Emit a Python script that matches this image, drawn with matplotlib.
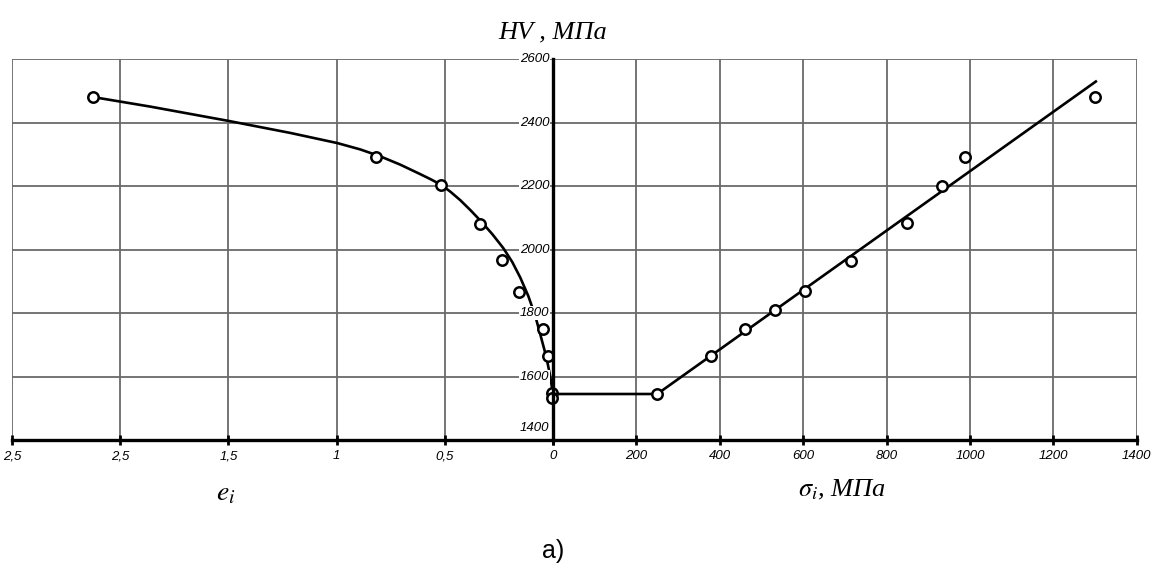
import matplotlib
matplotlib.use("Agg")
import matplotlib.pyplot as plt
import matplotlib.transforms as mtransforms

plt.rcParams['mathtext.fontset'] = 'stix'

# ---------------- data ----------------
# left half: strain intensity e_i (reversed axis)
left_e_pts = [2.124, 0.818, 0.517, 0.337, 0.237, 0.156, 0.045, 0.0245, 0.006, 0.003]
left_hv_pts = [2481, 2292, 2205, 2080, 1967, 1867, 1749, 1664, 1547, 1531]
curve_e = [2.125, 1.862, 1.501, 1.2145, 0.997, 0.891, 0.798, 0.706, 0.6135, 0.5626,
           0.5164, 0.4748, 0.4286, 0.3823, 0.3361, 0.2806, 0.2298, 0.1882, 0.1512,
           0.1142, 0.0818, 0.0541, 0.031, 0.0148, 0.0]
curve_hv = [2481, 2451, 2406, 2368, 2336, 2316, 2294, 2268, 2238, 2221,
            2204, 2183, 2156, 2125, 2092, 2049, 2005, 1961, 1912,
            1854, 1791, 1721, 1662, 1608, 1545]

# right half: stress intensity sigma_i, MPa
right_s_pts = [250, 378, 461, 532, 604, 714, 848, 932, 989, 1300]
right_hv_pts = [1544, 1666, 1749, 1810, 1870, 1964, 2083, 2201, 2293, 2480]
line_s = [0, 250, 1302]
line_hv = [1545, 1545, 2530]

left_ticks = [2.5, 2.0, 1.5, 1.0, 0.5, 0.0]
left_tick_labels = ['2,5', '2,5', '1,5', '1', '0,5', '0']
right_ticks = [0, 200, 400, 600, 800, 1000, 1200, 1400]
right_tick_labels = ['', '200', '400', '600', '800', '1000', '1200', '1400']
y_ticks = [1400, 1600, 1800, 2000, 2200, 2400, 2600]

# ---------------- figure ----------------
W, H = 1151, 583
fig = plt.figure(figsize=(W / 100, H / 100), dpi=100)

x0, xm, x1 = 12, 553, 1136.7
ytop, ybot = 59.3, 440
axL = fig.add_axes([x0 / W, (H - ybot) / H, (xm - x0) / W, (ybot - ytop) / H])
axR = fig.add_axes([xm / W, (H - ybot) / H, (x1 - xm) / W, (ybot - ytop) / H])
axL.set_zorder(1)
axR.set_zorder(2)
axR.patch.set_alpha(0)

tick_font = dict(family=['Liberation Sans', 'DejaVu Sans'], style='italic', size=9.5)
grid_kw = dict(color='#6a6a6a', lw=1.3, zorder=1)

for ax in (axL, axR):
    ax.set_ylim(1400, 2600)
    for s in ('top', 'right', 'left', 'bottom'):
        ax.spines[s].set_visible(False)
    for y in y_ticks[1:]:
        ax.axhline(y, **grid_kw)

axL.set_xlim(2.5, 0)
axR.set_xlim(0, 1400)

for x in left_ticks[:-1]:
    axL.axvline(x, **grid_kw)
for x in right_ticks[1:]:
    axR.axvline(x, **grid_kw)

# bottom axis
for ax in (axL, axR):
    ax.spines['bottom'].set_visible(True)
    ax.spines['bottom'].set_linewidth(2.4)
    ax.spines['bottom'].set_color('black')
    ax.tick_params(axis='x', direction='inout', length=7, width=2.0, pad=4)
    ax.set_yticks([])

axL.set_xticks(left_ticks)
axL.set_xticklabels(left_tick_labels, fontdict=tick_font)
axR.set_xticks(right_ticks)
axR.set_xticklabels(right_tick_labels, fontdict=tick_font)

# central vertical axis
axR.spines['left'].set_visible(True)
axR.spines['left'].set_linewidth(2.4)
axR.spines['left'].set_color('black')
axR.spines['left'].set_zorder(5)

ytrans = axR.get_yaxis_transform()
for y in y_ticks:
    tr = ytrans
    if y == 1400:
        tr = mtransforms.offset_copy(ytrans, fig=fig, y=12, units='dots')
    axR.text(-0.006, y, str(y), transform=tr, ha='right', va='center',
             fontdict=tick_font, zorder=6,
             bbox=dict(facecolor='white', edgecolor='none', pad=0.5))

# curves
axL.plot(curve_e, curve_hv, color='black', lw=1.9, zorder=3, clip_on=False)
axL.plot(left_e_pts, left_hv_pts, 'o', ms=7.5, mfc='white', mec='black', mew=1.8,
         zorder=4, clip_on=False)
axR.plot(line_s, line_hv, color='black', lw=1.9, zorder=3, clip_on=False)
axR.plot(right_s_pts, right_hv_pts, 'o', ms=7.5, mfc='white', mec='black', mew=1.8,
         zorder=4, clip_on=False)

# labels
serif = ['Liberation Serif', 'DejaVu Serif']
fig.text(553 / W, 1 - 32 / H, 'HV , МПа', ha='center', va='center',
         family=serif, style='italic', size=19)
fig.text(226 / W, 1 - 492 / H, r'$e_i$', ha='center', va='center', size=20)
fig.text(842 / W, 1 - 490 / H, r'$\sigma_i$, МПа', ha='center', va='center',
         family=serif, style='italic', size=19)
fig.text(553 / W, 1 - 551 / H, 'a)', ha='center', va='center',
         family=['Liberation Sans', 'DejaVu Sans'], size=18)

fig.savefig('out.png', dpi=100)
